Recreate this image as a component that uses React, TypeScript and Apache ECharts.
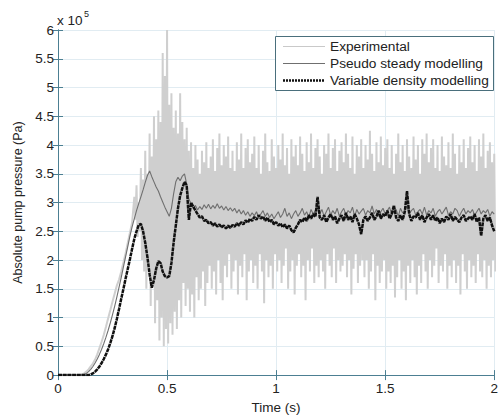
import React, { useEffect, useRef } from "react";
import * as echarts from "echarts";

// Time step of the model series (s)
const modelStep = 0.01;

// Pseudo steady modelling, x1e5 Pa, t = 0 .. 2.00 s step 0.01
const pseudoSteady = [
  0, 0, 0, 0, 0, 0, 0, 0, 0, 0,
  0, 0, 0.01, 0.03, 0.06, 0.1, 0.15, 0.21, 0.28, 0.36,
  0.45, 0.55, 0.66, 0.78, 0.91, 1.05, 1.2, 1.36, 1.53, 1.7,
  1.88, 2.06, 2.24, 2.42, 2.58, 2.72, 2.86, 2.98, 3.1, 3.22,
  3.35, 3.47, 3.55, 3.45, 3.36, 3.27, 3.2, 3.1, 3.01, 2.92,
  2.84, 2.76, 2.9, 3.15, 3.36, 3.44, 3.38, 3.46, 3.5, 3.32,
  3.06, 2.98, 2.9, 2.95, 2.87, 2.93, 2.88, 2.96, 2.9, 2.97,
  2.89, 2.95, 2.9, 2.98, 2.9, 2.94, 2.87, 2.93, 2.86, 2.91,
  2.85, 2.9, 2.82, 2.88, 2.8, 2.86, 2.78, 2.84, 2.76, 2.82,
  2.77, 2.84, 2.74, 2.8, 2.86, 2.76, 2.82, 2.74, 2.8, 2.72,
  2.78, 2.84, 2.74, 2.8, 2.9, 2.76, 2.82, 2.72, 2.8, 2.86,
  2.76, 2.82, 2.9, 2.78, 2.84, 2.74, 2.88, 2.8, 2.86, 2.96,
  2.8, 2.88, 2.76, 2.84, 2.92, 2.78, 2.86, 2.8, 2.9, 2.76,
  2.84, 2.9, 2.78, 2.86, 2.82, 2.92, 2.76, 2.88, 2.8, 2.85,
  2.9, 2.78, 2.86, 2.82, 2.94, 2.8, 2.88, 2.76, 2.84, 2.9,
  2.8, 2.86, 2.92, 2.78, 2.84, 2.88, 2.76, 2.9, 2.82, 2.86,
  2.94, 2.8, 2.86, 2.9, 2.78, 2.84, 2.88, 2.8, 2.92, 2.78,
  2.86, 2.82, 2.9, 2.76, 2.84, 2.88, 2.8, 2.86, 2.92, 2.78,
  2.84, 2.8, 2.9, 2.86, 2.76, 2.84, 2.9, 2.8, 2.86, 2.82,
  2.88, 2.78, 2.84, 2.9, 2.8, 2.86, 2.82, 2.88, 2.76, 2.84,
  2.8,
];

// Variable density modelling, x1e5 Pa, t = 0 .. 2.00 s step 0.01
const variableDensity = [
  0, 0, 0, 0, 0, 0, 0, 0, 0, 0,
  0, 0, 0, 0, 0, 0.01, 0.03, 0.06, 0.1, 0.15,
  0.21, 0.28, 0.36, 0.45, 0.56, 0.68, 0.82, 0.98, 1.15, 1.33,
  1.5, 1.68, 1.85, 2.02, 2.2, 2.37, 2.5, 2.61, 2.63, 2.5,
  2.3, 2.05, 1.75, 1.52, 1.65, 1.85, 1.98, 1.95, 1.8, 1.72,
  1.7, 1.72, 1.95, 2.3, 2.6, 2.9, 3.12, 3.25, 3.36, 3.3,
  2.7, 3.0, 2.93, 2.86, 2.8, 2.74, 2.76, 2.68, 2.7, 2.64,
  2.66, 2.6, 2.64, 2.58, 2.62, 2.57, 2.6, 2.55, 2.6, 2.56,
  2.61, 2.58, 2.64, 2.6, 2.66, 2.62, 2.69, 2.65, 2.72, 2.68,
  2.75, 2.7, 2.78, 2.72, 2.76, 2.68, 2.74, 2.66, 2.7, 2.62,
  2.66, 2.6, 2.64, 2.57, 2.62, 2.55, 2.6, 2.52, 2.48, 2.56,
  2.62, 2.7, 2.66, 2.74, 2.68, 2.78, 2.72, 2.8, 2.75, 3.1,
  2.74, 2.7, 2.78, 2.66, 2.74, 2.8, 2.7, 2.76, 2.64, 2.72,
  2.78, 2.68, 2.82, 2.7, 2.76, 2.66, 2.8, 2.72, 2.62, 2.45,
  2.7, 2.76, 2.68, 2.74, 2.82, 2.7, 2.76, 2.86, 2.72, 2.8,
  2.76, 2.86, 2.72, 2.8, 2.95, 2.74, 2.68, 2.78, 2.7, 2.84,
  3.2, 2.8, 2.68, 2.76, 2.74, 2.82, 2.7, 2.78, 2.66, 2.74,
  2.8, 2.7, 2.78, 2.68, 2.74, 2.64, 2.72, 2.66, 2.76, 2.7,
  2.8, 2.68, 2.75, 2.7, 2.66, 2.74, 2.78, 2.68, 2.72, 2.76,
  2.7, 2.8, 2.66, 2.74, 2.42, 2.72, 2.78, 2.68, 2.74, 2.6,
  2.5,
];

// Experimental: smooth rise, t = 0 .. 0.34 s step 0.01
const expRise = [
  0, 0, 0, 0, 0, 0, 0, 0, 0, 0,
  0, 0.01, 0.03, 0.06, 0.1, 0.15, 0.2, 0.27, 0.36, 0.47,
  0.58, 0.7, 0.84, 0.99, 1.13, 1.28, 1.42, 1.56, 1.66, 1.8,
  1.96, 2.12, 2.3, 2.48, 2.66,
];
const expNoiseStart = 0.35;

// Experimental oscillation peaks / troughs, t = 0.35 .. 2.00 s step 0.01
const expHigh = [
  3.1, 3.3, 3.0, 3.6, 3.4,
  3.9, 3.5, 4.2, 3.8, 4.5, 4.1, 4.6, 4.4, 5.6, 5.2,
  6.0, 4.7, 4.9, 4.3, 4.6, 4.2, 4.9, 4.4, 4.1, 4.3,
  3.9, 4.05, 3.6, 4.0, 3.75, 3.5, 3.9, 3.7, 4.05, 3.6,
  3.8, 4.1, 3.55, 3.95, 4.2, 3.65, 4.0, 3.8, 4.15, 3.6,
  3.9, 3.55, 4.05, 3.75, 4.2, 3.6, 3.95, 4.1, 3.7, 3.85,
  4.15, 3.6, 4.0, 3.5, 3.9, 4.2, 3.7, 3.55, 4.1, 3.8,
  3.6, 4.0, 3.75, 4.2, 3.65, 3.95, 3.5, 4.1, 3.8, 4.0,
  3.65, 4.15, 3.85, 3.55, 4.05, 3.7, 4.2, 3.6, 3.95, 4.1,
  3.8, 3.5, 4.0, 3.85, 4.2, 3.6, 3.95, 4.1, 3.55, 3.9,
  4.05, 3.7, 4.2, 3.85, 3.6, 4.15, 3.5, 4.0, 3.8, 4.1,
  3.6, 4.0, 3.75, 4.25, 3.85, 3.55, 4.05, 3.7, 4.15, 3.65,
  3.95, 4.1, 3.6, 4.0, 3.5, 3.85, 4.2, 3.7, 4.0, 3.55,
  4.1, 3.8, 3.6, 4.15, 3.75, 4.0, 3.5, 4.1, 3.85, 4.2,
  3.7, 3.95, 4.1, 3.6, 4.0, 3.55, 4.15, 3.8, 3.65, 4.05,
  3.6, 4.2, 3.85, 3.5, 4.0, 3.7, 4.1, 3.6, 3.95, 4.15,
  3.7, 4.0, 3.55, 4.1, 3.8, 4.2, 3.6, 3.9, 4.05, 3.7,
  3.85,
];
const expLow = [
  2.7, 2.4, 2.5, 2.0, 1.8,
  1.5, 1.9, 1.2, 1.6, 0.9, 1.3, 0.6, 1.0, 0.5, 0.8,
  0.55, 0.9, 0.7, 1.1, 0.8, 1.3, 1.0, 1.6, 1.2, 1.5,
  1.1, 1.4, 1.0, 1.7, 1.3, 1.5, 1.8, 1.2, 1.6, 1.9,
  1.5, 1.8, 1.4, 2.0, 1.6, 1.3, 1.9, 1.7, 2.1, 1.5,
  1.8, 2.0, 1.4, 1.9, 1.7, 2.1, 1.3, 1.8, 2.0, 1.6,
  1.9, 1.5, 2.1, 1.8, 1.25, 2.0, 1.7, 1.9, 1.5, 2.1,
  1.8, 2.0, 1.6, 1.9, 2.2, 1.5, 1.8, 2.0, 1.4, 1.9,
  2.1, 1.7, 1.9, 1.3, 2.0, 1.8, 2.2, 1.6, 1.9, 1.7,
  2.0, 1.8, 1.5, 2.1, 1.9, 1.7, 2.2, 1.6, 2.0, 1.8,
  1.9, 2.1, 1.7, 2.0, 1.4, 1.85, 2.1, 1.6, 1.9, 2.0,
  1.7, 2.0, 1.5, 1.8, 2.1, 1.3, 1.9, 1.6, 1.8, 2.0,
  1.5, 1.8, 1.6, 1.9, 1.35, 1.7, 2.0, 1.5, 1.8, 1.3,
  1.9, 1.6, 2.0, 1.7, 1.4, 1.9, 1.6, 2.1, 1.8, 1.5,
  2.0, 1.7, 1.9, 2.2, 1.6, 1.9, 1.8, 2.1, 1.5, 1.9,
  1.7, 2.0, 1.6, 1.9, 1.4, 2.1, 1.8, 1.5, 2.0, 1.7,
  1.9, 1.6, 2.1, 1.8, 1.7, 2.0, 1.5, 1.9, 1.7, 2.0,
  1.8,
];

const seriesNames = ["Experimental", "Pseudo steady modelling", "Variable density modelling"];
const yTicks = { min: 0, max: 6, interval: 0.5 };
const xTicks = { min: 0, max: 2, interval: 0.5 };

const r3 = (v: number) => Math.round(v * 1000) / 1000;

function buildModel(vals: number[]) {
  return vals.map((v, i) => [r3(i * modelStep), v]);
}

function buildExperimental() {
  const pts: number[][] = [];
  expRise.forEach((v, i) => pts.push([r3(i * modelStep), v]));
  expHigh.forEach((h, i) => {
    const t = expNoiseStart + i * modelStep;
    pts.push([r3(t), h]);
    pts.push([r3(t + modelStep / 2), expLow[i]]);
  });
  return pts;
}

const AXIS = "#4c7f92";
const GRID = "#e1ecf2";
const TEXT = "#222";
const FONT = "'Liberation Sans', Arial, sans-serif";
const FS = 13.5;

const EXP_COLOR = "#cfcfcf";
const PS_COLOR = "#6f6f6f";
const VD_COLOR = "#111";
const VD_DASH = [4, 0.7];

export default function App() {
  const ref = useRef<HTMLDivElement>(null);
  useEffect(() => {
    if (!ref.current) return;
    const chart = echarts.init(ref.current, null, { renderer: "svg" });
    const axisCommon = {
      type: "value" as const,
      axisLine: { show: true, lineStyle: { color: AXIS, width: 1 } },
      axisTick: { show: true, inside: true, length: 5, lineStyle: { color: AXIS } },
    };

    // Legend drawn by hand (box, line samples, labels)
    const lgX = 275, lgY = 36, lgW = 218, lgH = 54;
    const rowsY = [46.5, 63.5, 80.5];
    const sampleStyles = [
      { stroke: "#c9c9c9", lineWidth: 1.2 },
      { stroke: PS_COLOR, lineWidth: 1.1 },
      { stroke: VD_COLOR, lineWidth: 2.6, lineDash: [2, 1] },
    ];
    const legendChildren: any[] = [
      {
        type: "rect",
        z: 100,
        shape: { x: lgX + 0.5, y: lgY + 0.5, width: lgW, height: lgH },
        style: { fill: "#fff", stroke: "#4a6f7c", lineWidth: 1 },
      },
    ];
    seriesNames.forEach((name, i) => {
      legendChildren.push({
        type: "line",
        z: 101,
        shape: { x1: 283, y1: rowsY[i], x2: 325, y2: rowsY[i] },
        style: sampleStyles[i],
      });
      legendChildren.push({
        type: "text",
        z: 101,
        x: 330,
        y: rowsY[i],
        style: { text: name, fill: TEXT, font: `13.7px ${FONT}`, verticalAlign: "middle" },
      });
    });

    chart.setOption({
      animation: false,
      backgroundColor: "#fff",
      textStyle: { fontFamily: FONT },
      grid: { left: 58, right: 2, top: 30, bottom: 42, containLabel: false },
      xAxis: [
        {
          ...axisCommon,
          position: "bottom",
          ...xTicks,
          axisLabel: { color: TEXT, fontSize: FS, fontFamily: FONT, margin: 6 },
          splitLine: { show: true, lineStyle: { color: GRID, width: 1 } },
          name: "Time (s)",
          nameLocation: "middle",
          nameGap: 21,
          nameTextStyle: { color: TEXT, fontSize: FS, fontFamily: FONT },
        },
        {
          ...axisCommon,
          position: "top",
          ...xTicks,
          axisLabel: { show: false },
          splitLine: { show: false },
        },
      ],
      yAxis: [
        {
          ...axisCommon,
          position: "left",
          ...yTicks,
          axisLabel: { color: TEXT, fontSize: FS, fontFamily: FONT, margin: 4 },
          splitLine: { show: true, lineStyle: { color: GRID, width: 1 } },
          name: "Absolute pump pressure (Pa)",
          nameLocation: "middle",
          nameGap: 26,
          nameTextStyle: { color: TEXT, fontSize: 12.5, fontFamily: FONT },
        },
        {
          ...axisCommon,
          position: "right",
          ...yTicks,
          axisLabel: { show: false },
          splitLine: { show: false },
        },
      ],
      graphic: [
        {
          type: "text",
          left: 57,
          top: 13,
          style: { text: "x 10", fill: TEXT, font: `${FS}px ${FONT}` },
        },
        {
          type: "text",
          left: 84,
          top: 9,
          style: { text: "5", fill: TEXT, font: `9px ${FONT}` },
        },
        { type: "group", children: legendChildren },
      ],
      series: [
        {
          name: seriesNames[0],
          type: "line",
          data: buildExperimental(),
          showSymbol: false,
          symbol: "none",
          silent: true,
          lineStyle: { color: EXP_COLOR, width: 2 },
          z: 2,
        },
        {
          name: seriesNames[1],
          type: "line",
          data: buildModel(pseudoSteady),
          showSymbol: false,
          symbol: "none",
          silent: true,
          lineStyle: { color: PS_COLOR, width: 1.1 },
          z: 3,
        },
        {
          name: seriesNames[2],
          type: "line",
          data: buildModel(variableDensity),
          showSymbol: false,
          symbol: "none",
          silent: true,
          lineStyle: { color: VD_COLOR, width: 2.5, type: VD_DASH },
          z: 4,
        },
      ],
    });
    return () => chart.dispose();
  }, []);
  return (
    <div
      ref={ref}
      style={{ position: "fixed", left: 0, top: 0, width: 501, height: 419, background: "#fff" }}
    />
  );
}
